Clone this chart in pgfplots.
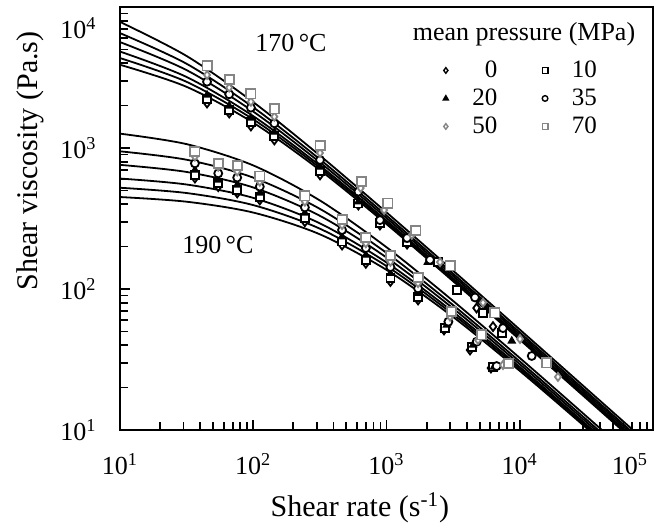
\documentclass[border=0pt]{standalone}
\usepackage{fontspec}
\setmainfont{Liberation Serif}
\usepackage{pgfplots}
\pgfplotsset{compat=1.18}

\definecolor{ptgray}{gray}{0.52}

\begin{document}
\begin{tikzpicture}
\begin{axis}[
    at={(0,0)}, anchor=south west,
    scale only axis, width=266.5pt, height=211.5pt,
    xmode=log, ymode=log,
    xmin=10, xmax=1e5, ymin=10, ymax=1e4,
    axis line style={line width=1pt},
    tick align=inside, tick pos=left,
    major tick length=5pt, minor tick length=4pt,
    every tick/.style={black, line width=0.9pt},
    font=\fontsize{13}{15}\selectfont,
    xtick={10,100,1000,10000},
    xticklabels={10\textsuperscript{1},10\textsuperscript{2},10\textsuperscript{3},10\textsuperscript{4}},
    minor xtick={20,30,40,50,60,70,80,90,200,300,400,500,600,700,800,900,
      2000,3000,4000,5000,6000,7000,8000,9000,20000,30000,40000,50000,60000,70000,80000,90000},
    extra x ticks={100000}, extra x tick labels={10\textsuperscript{5}},
    extra x tick style={xticklabel style={xshift=-11.5pt}},
    ytick={10,100,1000},
    yticklabels={10\textsuperscript{1},10\textsuperscript{2},10\textsuperscript{3}},
    minor ytick={20,30,40,50,60,70,80,90,200,300,400,500,600,700,800,900,
      2000,3000,4000,5000,6000,7000,8000,9000},
    extra y ticks={10000}, extra y tick labels={10\textsuperscript{4}},
    extra y tick style={yticklabel style={yshift=-10.5pt}},
    xticklabel style={inner sep=0pt, anchor=north, yshift=-11.5pt},
    yticklabel style={inner sep=0pt, anchor=east, xshift=-11.5pt},
    every axis x label/.style={at={(axis description cs:0.45,0)}, yshift=-39pt, anchor=center},
    every axis y label/.style={at={(axis description cs:0,0.636)}, xshift=-45pt, rotate=90, anchor=center},
    xlabel={\fontsize{15}{17}\selectfont Shear rate (s\textsuperscript{-1})},
    ylabel={\fontsize{15}{17}\selectfont Shear viscosity (Pa.s)},
    legend columns=2, legend cell align=right,
    legend image post style={mark size=1.4pt, line width=0.7pt},
    legend style={draw=none, fill=none, inner sep=0pt,
      at={(axis description cs:0.606,0.884)}, anchor=north west,
      font=\fontsize{12.5}{14}\selectfont,
      nodes={inner sep=1.5pt, text height=9pt, text depth=2pt},
      /tikz/every odd column/.style={column sep=10.5pt},
      /tikz/every even column/.style={column sep=21pt}},
]

% fitted curves, 170 C (0, 10, 20, 35, 50, 70 MPa)
\addplot[black, line width=0.9pt, smooth, forget plot] coordinates {
  (10,3894) (31.62,2714) (100,1511) (316.2,697.0) (1000,288.5) (3162,113.5) (10000,43.73) (31620,16.72) (100000,6.37) };
\addplot[black, line width=0.9pt, smooth, forget plot] coordinates {
  (10,4343) (31.62,2946) (100,1596) (316.2,723.9) (1000,297.0) (3162,116.4) (10000,44.78) (31620,17.11) (100000,6.51) };
\addplot[black, line width=0.9pt, smooth, forget plot] coordinates {
  (10,4831) (31.62,3188) (100,1683) (316.2,750.5) (1000,305.5) (3162,119.3) (10000,45.86) (31620,17.51) (100000,6.67) };
\addplot[black, line width=0.9pt, smooth, forget plot] coordinates {
  (10,5638) (31.62,3566) (100,1813) (316.2,790.9) (1000,318.6) (3162,123.9) (10000,47.52) (31620,18.13) (100000,6.90) };
\addplot[black, line width=0.9pt, smooth, forget plot] coordinates {
  (10,6527) (31.62,3956) (100,1943) (316.2,831.0) (1000,331.6) (3162,128.5) (10000,49.22) (31620,18.76) (100000,7.14) };
\addplot[black, line width=0.9pt, smooth, forget plot] coordinates {
  (10,7842) (31.62,4491) (100,2115) (316.2,884.3) (1000,349.4) (3162,134.9) (10000,51.58) (31620,19.65) (100000,7.48) };

% fitted curves, 190 C
\addplot[black, line width=0.9pt, smooth, forget plot] coordinates {
  (10,449.0) (31.62,415.9) (100,348.4) (316.2,244.2) (1000,136.6) (3162,63.31) (10000,26.26) (31620,10.34) (100000,3.98) };
\addplot[black, line width=0.9pt, smooth, forget plot] coordinates {
  (10,522.4) (31.62,479.2) (100,393.6) (316.2,267.7) (1000,145.4) (3162,66.04) (10000,27.12) (31620,10.63) (100000,4.09) };
\addplot[black, line width=0.9pt, smooth, forget plot] coordinates {
  (10,607.2) (31.62,550.8) (100,442.8) (316.2,292.2) (1000,154.2) (3162,68.76) (10000,27.99) (31620,10.93) (100000,4.20) };
\addplot[black, line width=0.9pt, smooth, forget plot] coordinates {
  (10,759.2) (31.62,676.1) (100,524.8) (316.2,330.4) (1000,167.3) (3162,72.80) (10000,29.29) (31620,11.39) (100000,4.37) };
\addplot[black, line width=0.9pt, smooth, forget plot] coordinates {
  (10,946.9) (31.62,825.3) (100,616.4) (316.2,370.1) (1000,180.5) (3162,76.86) (10000,30.62) (31620,11.86) (100000,4.54) };
\addplot[black, line width=0.9pt, smooth, forget plot] coordinates {
  (10,1264) (31.62,1065) (100,752.4) (316.2,424.6) (1000,197.8) (3162,82.28) (10000,32.44) (31620,12.51) (100000,4.78) };

% measured points
\addplot[only marks, mark=diamond*, mark size=2.2pt, draw=black, fill=white, line width=0.9pt] coordinates {
  (45,2084) (66,1770) (96,1432) (144,1140) (317,644) (615,394) (893,284) (1426,208) (4740,73.3) (6300,54.1)
  (36.5,612) (54.6,532) (75.8,480) (112,428) (244,300) (464,205) (700,152) (1070,113) (1725,83.6) (2700,51.2) (4235,36.9) (6080,27.5) };
\addlegendentry{0}
\addplot[only marks, mark=square*, mark size=2pt, draw=black, fill=white, line width=0.9pt] coordinates {
  (45,2228) (66,1862) (96,1528) (144,1216) (317,687) (615,404) (893,294) (1426,215) (2430,155) (3381,98.4) (5300,67.6) (7330,48.8)
  (36.5,644) (54.6,565) (75.8,504) (112,449) (244,319) (464,217) (700,161) (1070,120) (1725,87.7) (2750,52.9) (4355,39.0) (6300,27.9) };
\addlegendentry{10}
\addplot[only marks, mark=triangle*, mark size=2pt, draw=black, fill=black, line width=0.6pt] coordinates {
  (45,2377) (66,1986) (96,1633) (144,1297) (317,733) (615,416) (893,303) (1426,223) (2040,155) (8710,42.8)
  (36.5,698) (54.6,593) (75.8,547) (112,480) (244,346) (464,235) (700,174) (1070,129) (1725,93.3) (2833,55.6) (4460,40.1) (6410,28.0) };
\addlegendentry{20}
\addplot[only marks, mark=*, mark size=2pt, draw=black, fill=white, line width=0.9pt] coordinates {
  (45,2951) (66,2404) (96,1933) (144,1496) (317,822) (615,490) (893,308) (1426,230) (2120,161) (4613,87.1) (7480,52.8) (12300,33.5)
  (36.5,778) (54.6,661) (75.8,617) (112,532) (244,379) (464,262) (700,195) (1070,143) (1725,101) (2913,58.6) (4755,42.3) (6710,28.4) };
\addlegendentry{35}
\addplot[only marks, mark=diamond*, mark size=2pt, draw=ptgray, fill=white, line width=0.9pt] coordinates {
  (45,3296) (66,2679) (96,2128) (144,1667) (317,922) (640,520) (960,363) (1550,242) (2523,155) (5300,80.0) (10050,44.2) (19360,23.8)
  (36.5,869) (54.6,736) (75.8,682) (112,577) (244,416) (464,284) (700,211) (1070,156) (1725,110) (3000,63.7) (4860,43.5) (7480,28.9) };
\addlegendentry{50}
\addplot[only marks, mark=square*, mark size=2.3pt, draw=ptgray, fill=white, line width=0.9pt] coordinates {
  (45,3820) (66,3069) (96,2415) (144,1892) (317,1042) (651,577) (1026,407) (1664,259) (3000,146) (6515,67.6) (15920,29.9)
  (36.5,942) (54.6,778) (75.8,750) (112,632) (244,457) (464,312) (700,232) (1070,173) (1725,121) (3085,69.0) (5180,47.2) (8200,29.7) };
\addlegendentry{70}

\node[font=\fontsize{13}{15}\selectfont] at (axis cs:192,5560) {170\,°C};
\node[font=\fontsize{13}{15}\selectfont] at (axis cs:54.3,205) {190\,°C};
\node[font=\fontsize{13}{15}\selectfont] at (axis description cs:0.758,0.936) {mean pressure (MPa)};
\end{axis}
\pgfresetboundingbox
\path[use as bounding box] (-60pt,-49.5pt) rectangle (272pt,215pt);
\end{tikzpicture}
\end{document}
